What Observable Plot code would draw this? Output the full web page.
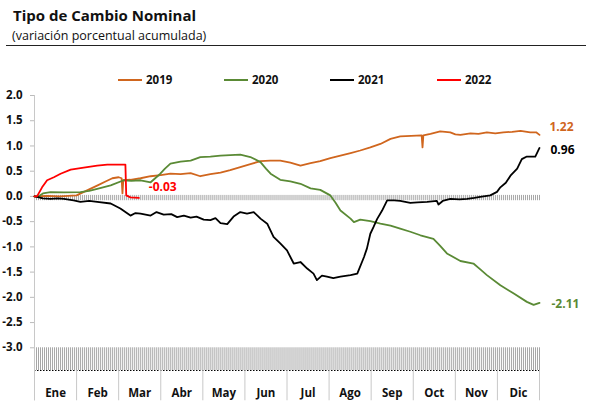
<!DOCTYPE html>
<html>
<head>
<meta charset="utf-8">
<script src="https://cdn.jsdelivr.net/npm/d3@7"></script>
<script src="https://cdn.jsdelivr.net/npm/@observablehq/plot@0.6"></script>
<style>
  html, body { margin: 0; padding: 0; background: #fff; }
  #wrap { position: relative; width: 592px; height: 411px; overflow: hidden; font-family: "Open Sans", sans-serif; }
  #title { position: absolute; left: 13px; top: 5px; font-weight: bold; font-size: 15px; color: #111; }
  #subtitle { position: absolute; left: 12px; top: 27px; font-size: 12.5px; color: #111; }
  #hr { position: absolute; left: 6px; top: 45px; width: 580px; height: 0; border-top: 1.3px solid #222; }
  .leg { position: absolute; top: 72px; font-family: "Open Sans", sans-serif; font-weight: bold; font-size: 11.5px; color: #111; display: flex; align-items: center; }
  .leg span.sw { display: inline-block; width: 24px; height: 2px; margin-right: 4px; }
  #chart { position: absolute; left: 0; top: 85px; }
</style>
</head>
<body>
<div id="wrap">
  <div id="title">Tipo de Cambio Nominal</div>
  <div id="subtitle">(variación porcentual acumulada)</div>
  <div id="hr"></div>
  <div id="legend"></div>
  <div id="chart"></div>
</div>
<script>
// ---- Data (x in months since Jan 1, y = % accumulated change) ----
const months = ["Ene","Feb","Mar","Abr","May","Jun","Jul","Ago","Sep","Oct","Nov","Dic"];
const yTicks = [2.0, 1.5, 1.0, 0.5, 0.0, -0.5, -1.0, -1.5, -2.0, -2.5, -3.0];
const years = ["2019","2020","2021","2022"];
const colors = ["#D0661E", "#5A8A35", "#000000", "#FF0000"];

const s2019 = [[0,0],[0.3,0.01],[0.6,0.0],[1.0,0.02],[1.1,0.06],[1.3,0.14],[1.5,0.22],[1.7,0.30],[1.85,0.36],[2.0,0.38],[2.07,0.36],[2.09,0.06],[2.11,0.32],[2.28,0.33],[2.52,0.36],[2.76,0.40],[3.0,0.42],[3.23,0.45],[3.47,0.44],[3.71,0.46],[3.94,0.40],[4.18,0.44],[4.42,0.47],[4.65,0.52],[4.89,0.58],[5.13,0.64],[5.37,0.70],[5.6,0.71],[5.84,0.71],[6.08,0.67],[6.32,0.61],[6.56,0.66],[6.79,0.70],[7.03,0.76],[7.27,0.81],[7.51,0.86],[7.74,0.91],[7.98,0.97],[8.22,1.04],[8.46,1.14],[8.69,1.19],[8.95,1.20],[9.2,1.21],[9.22,0.97],[9.24,1.21],[9.41,1.24],[9.64,1.29],[9.88,1.27],[10.0,1.23],[10.12,1.22],[10.36,1.25],[10.55,1.24],[10.75,1.27],[10.95,1.25],[11.14,1.27],[11.35,1.28],[11.55,1.30],[11.78,1.27],[11.92,1.27],[12.0,1.22]];

const s2020 = [[0,0],[0.07,-0.01],[0.2,0.06],[0.38,0.085],[0.7,0.08],[1.09,0.085],[1.3,0.11],[1.49,0.15],[1.81,0.22],[2.12,0.32],[2.3,0.31],[2.52,0.32],[2.76,0.28],[2.99,0.45],[3.1,0.55],[3.23,0.65],[3.47,0.69],[3.71,0.71],[3.94,0.78],[4.18,0.79],[4.42,0.81],[4.65,0.82],[4.89,0.83],[5.13,0.78],[5.37,0.68],[5.5,0.55],[5.61,0.45],[5.84,0.33],[6.08,0.30],[6.32,0.25],[6.56,0.16],[6.79,0.13],[7.03,0.02],[7.15,-0.12],[7.27,-0.28],[7.51,-0.44],[7.59,-0.51],[7.74,-0.46],[7.98,-0.49],[8.22,-0.54],[8.46,-0.58],[8.69,-0.64],[8.93,-0.70],[9.17,-0.77],[9.48,-0.84],[9.64,-0.98],[9.80,-1.13],[10.12,-1.28],[10.43,-1.33],[10.6,-1.45],[10.75,-1.56],[11.07,-1.76],[11.38,-1.92],[11.70,-2.09],[11.86,-2.15],[12.0,-2.11]];

const s2021 = [[0,0],[0.06,-0.01],[0.2,-0.04],[0.38,-0.05],[0.55,-0.04],[0.70,-0.05],[0.93,-0.08],[1.09,-0.11],[1.3,-0.09],[1.49,-0.11],[1.81,-0.14],[2.04,-0.24],[2.28,-0.38],[2.4,-0.33],[2.52,-0.34],[2.76,-0.38],[2.9,-0.31],[3.07,-0.36],[3.25,-0.35],[3.39,-0.41],[3.55,-0.38],[3.71,-0.42],[3.85,-0.40],[4.02,-0.46],[4.18,-0.47],[4.3,-0.43],[4.42,-0.53],[4.58,-0.55],[4.73,-0.40],[4.89,-0.31],[5.05,-0.34],[5.21,-0.31],[5.37,-0.44],[5.53,-0.54],[5.68,-0.80],[5.84,-0.93],[6.0,-1.07],[6.16,-1.33],[6.32,-1.30],[6.48,-1.43],[6.63,-1.53],[6.71,-1.66],[6.83,-1.57],[6.95,-1.59],[7.1,-1.62],[7.27,-1.59],[7.51,-1.56],[7.67,-1.53],[7.83,-1.20],[7.90,-1.03],[7.98,-0.74],[8.06,-0.60],[8.14,-0.45],[8.26,-0.28],[8.38,-0.08],[8.55,-0.08],[8.69,-0.09],[8.93,-0.13],[9.1,-0.12],[9.33,-0.11],[9.56,-0.09],[9.60,-0.16],[9.70,-0.09],[9.88,-0.05],[10.1,-0.06],[10.28,-0.05],[10.45,-0.03],[10.59,-0.01],[10.83,0.02],[10.99,0.09],[11.07,0.18],[11.2,0.27],[11.31,0.41],[11.47,0.55],[11.58,0.74],[11.70,0.79],[11.90,0.79],[12.0,0.96]];

const s2022 = [[0,0],[0.06,0.0],[0.18,0.18],[0.30,0.32],[0.46,0.38],[0.62,0.45],[0.86,0.53],[1.17,0.57],[1.49,0.61],[1.73,0.63],[2.16,0.63],[2.18,0.02],[2.28,-0.02],[2.48,-0.03]];

const endLabels = [
  {year: "2019", x: 12, y: 1.22, text: "1.22"},
  {year: "2021", x: 12, y: 0.96, text: "0.96"},
  {year: "2020", x: 12, y: -2.11, text: "-2.11"},
  {year: "2022", x: 2.48, y: -0.03, text: "-0.03"}
];

// ---- Build table ----
const seriesList = [s2019, s2020, s2021, s2022];
const rows = seriesList.flatMap((s, i) => s.map(([x, y]) => ({year: years[i], x, y})));

const yMin = -3.45, yMax = 2.0;
const dayTicks = d3.range(0, 12.0001, 12 / 252);
const monthIdx = d3.range(months.length);

// ---- Legend ----
const legend = document.getElementById("legend");
const legLeft = [118, 224, 330, 437];
years.forEach((yr, i) => {
  const d = document.createElement("div");
  d.className = "leg";
  d.style.left = legLeft[i] + "px";
  d.innerHTML = `<span class="sw" style="background:${colors[i]}"></span>${yr}`;
  legend.appendChild(d);
});

const fontAxis = "Open Sans, sans-serif";
// label placement (style only)
const labelStyle = {"1.22": [10, -8], "0.96": [11, 2], "-2.11": [12, 1], "-0.03": [10, -11]};

const chart = Plot.plot({
  width: 592,
  height: 326,
  marginTop: 10,
  marginBottom: 41,
  marginLeft: 34,
  marginRight: 53,
  style: {fontFamily: fontAxis, fontSize: "11px", background: "white", overflow: "visible"},
  x: {domain: [0, 12], axis: null},
  y: {domain: [yMin, yMax], axis: null},
  color: {domain: years, range: colors},
  marks: [
    // hatched band at the bottom (-3.0 to bottom)
    Plot.ruleX(dayTicks, {x: d => d, y1: -3.0, y2: yMin, stroke: "#a6a6a6", strokeWidth: 1}),
    // dotted baseline
    Plot.ruleY([yMin], {stroke: "#000", strokeWidth: 1.2, strokeDasharray: "1.5,1.5"}),
    // tick band at zero
    Plot.ruleX(dayTicks, {x: d => d, y1: 0.02, y2: -0.085, stroke: "#a6a6a6", strokeWidth: 1}),
    // y axis line
    Plot.ruleX([0], {y1: yMin - 0.6, y2: yMax, stroke: "#c8c8c8", strokeWidth: 1}),
    Plot.axisY({ticks: yTicks, tickSize: 4, tickPadding: 8, tickFormat: d => d.toFixed(1), stroke: "#bbb", fontWeight: "bold", fontSize: 11.5, fill: "#111", label: null}),
    // month separators
    Plot.ruleX(d3.range(months.length + 1), {x: d => d, y1: yMin, y2: yMin - 0.6, stroke: "#c8c8c8", strokeWidth: 1}),
    Plot.text(monthIdx, {x: d => d + 0.5, y: yMin, dy: 23, text: d => months[d], fontWeight: "bold", fontSize: 11.5, fill: "#111"}),
    // lines
    Plot.line(rows, {x: "x", y: "y", z: "year", stroke: "year", strokeWidth: 1.8, curve: "linear"}),
    // end labels, one mark each for individual offsets
    ...endLabels.map(l => Plot.text([l], {x: "x", y: "y", text: "text", fill: "year", textAnchor: "start",
      fontWeight: "bold", fontSize: 12, dx: labelStyle[l.text][0], dy: labelStyle[l.text][1]}))
  ]
});
document.getElementById("chart").appendChild(chart);
</script>
</body>
</html>
